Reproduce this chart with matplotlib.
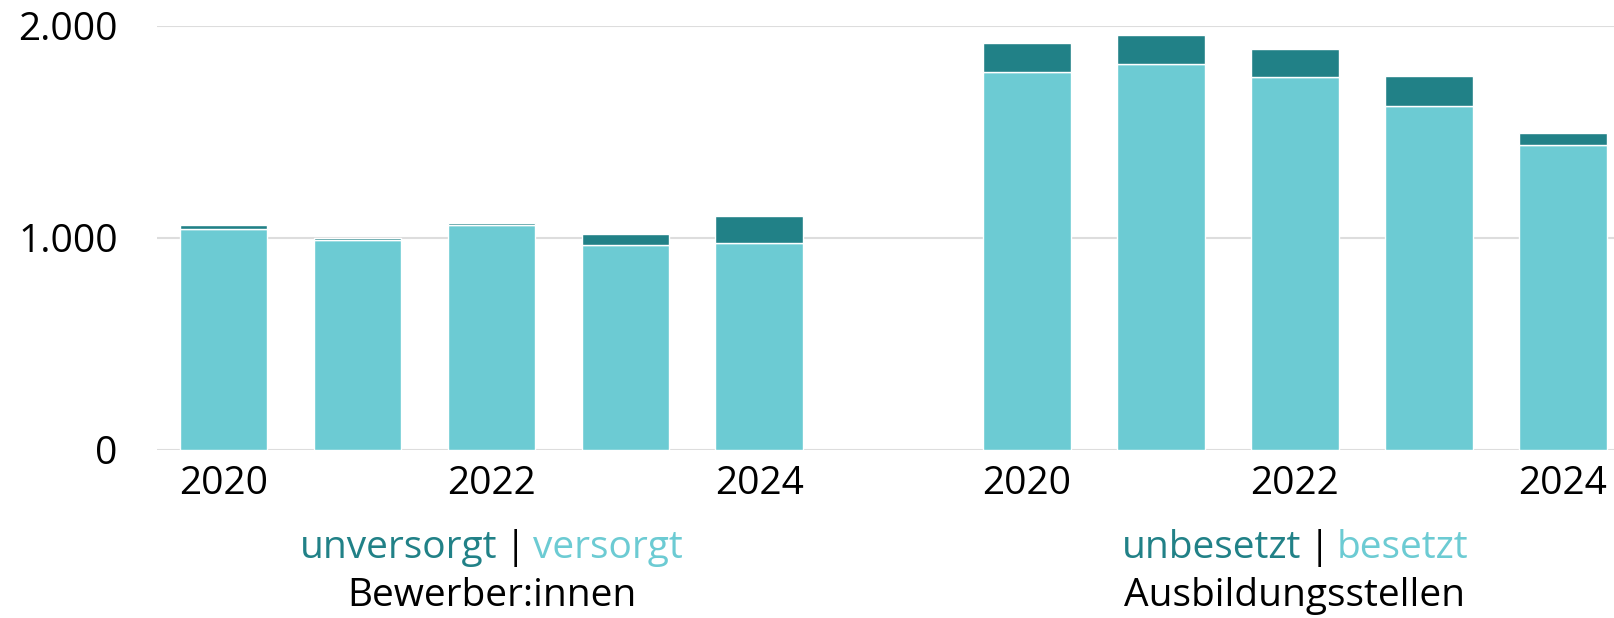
import matplotlib
matplotlib.use("Agg")
import matplotlib.pyplot as plt
from matplotlib.ticker import FuncFormatter
from matplotlib.offsetbox import TextArea, HPacker, AnnotationBbox
import matplotlib.transforms as mtransforms

years = ["2020", "2021", "2022", "2023", "2024"]
tick_years = ["2020", "", "2022", "", "2024"]
versorgt = [1043, 992, 1060, 969, 976]
unversorgt = [17, 7, 10, 48, 128]
besetzt = [1783, 1822, 1758, 1622, 1439]
unbesetzt = [135, 135, 135, 142, 57]

light = "#6CCBD3"
dark = "#218187"

plt.rcParams["font.family"] = ["Open Sans", "DejaVu Sans"]
FS = 28

fig = plt.figure(figsize=(16.15, 6.18), dpi=100)
ax = fig.add_axes([0.097, 0.272, 0.903, 0.686])

n = len(years)
x1 = list(range(n))
x2 = [i + n + 1 for i in range(n)]
w = 0.655

ax.bar(x1, versorgt, width=w, color=light, edgecolor="white", linewidth=1, zorder=3)
ax.bar(x1, unversorgt, width=w, bottom=versorgt, color=dark, edgecolor="white", linewidth=1, zorder=3)
ax.bar(x2, besetzt, width=w, color=light, edgecolor="white", linewidth=1, zorder=3)
ax.bar(x2, unbesetzt, width=w, bottom=besetzt, color=dark, edgecolor="white", linewidth=1, zorder=3)

ax.set_xlim(-0.5, 10.39)
ax.set_ylim(0, 2000)
ax.set_yticks([0, 1000, 2000])
ax.yaxis.set_major_formatter(FuncFormatter(lambda v, p: f"{int(v):,}".replace(",", ".")))
ax.grid(axis="y", color="#dddddd", linewidth=1.5, zorder=0)
ax.set_axisbelow(True)
for s in ax.spines.values():
    s.set_visible(False)

ticks = [x for x, t in zip(x1 + x2, tick_years + tick_years) if t]
labels = [t for t in tick_years + tick_years if t]
ax.set_xticks(ticks)
ax.set_xticklabels(labels)
ax.tick_params(axis="x", length=0, pad=11, labelsize=FS)
ax.tick_params(axis="y", length=0, pad=28, labelsize=FS)

trans = mtransforms.blended_transform_factory(ax.transData, fig.transFigure)

def colored_label(xc, parts, y):
    boxes = [TextArea(t, textprops=dict(color=c, fontsize=FS)) for t, c in parts]
    pack = HPacker(children=boxes, align="baseline", pad=0, sep=5)
    ab = AnnotationBbox(pack, (xc, y), xycoords=trans, frameon=False, box_alignment=(0.5, 0.5))
    fig.add_artist(ab)

c1 = (x1[0] + x1[-1]) / 2
c2 = (x2[0] + x2[-1]) / 2
colored_label(c1, [("unversorgt", dark), ("|", "black"), ("versorgt", light)], 0.113)
colored_label(c2, [("unbesetzt", dark), ("|", "black"), ("besetzt", light)], 0.113)
fig.text(c1, 0.035, "Bewerber:innen", transform=trans, ha="center", va="center", fontsize=FS, color="black")
fig.text(c2, 0.035, "Ausbildungsstellen", transform=trans, ha="center", va="center", fontsize=FS, color="black")

fig.savefig("out.png", dpi=100)
